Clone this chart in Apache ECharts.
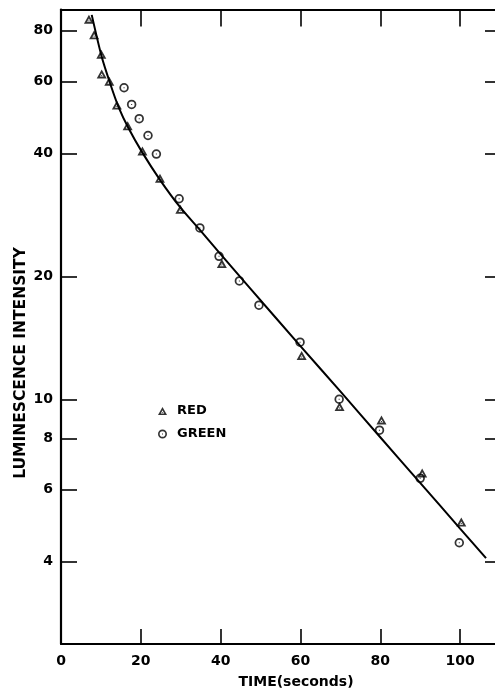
<!DOCTYPE html>
<html><head><meta charset="utf-8">
<script src="https://cdn.jsdelivr.net/npm/echarts@6/dist/echarts.min.js"></script>
<style>html,body{margin:0;padding:0;background:#fff}#c{width:495px;height:690px}</style>
</head><body><div id="c"></div>
<script>
// ---- data ----
const redTime = [7.0, 8.3, 10.1, 10.2, 12.1, 14.0, 16.7, 20.4, 24.8, 29.9, 40.3, 60.3, 69.8, 80.3, 90.5, 100.3];
const redIntensity = [85.4, 78.2, 70.1, 62.7, 60.2, 52.6, 46.8, 40.6, 34.8, 29.2, 21.5, 12.8, 9.6, 8.9, 6.6, 5.0];
const greenTime = [15.8, 17.7, 19.6, 21.8, 23.9, 29.6, 34.8, 39.6, 44.7, 49.6, 59.9, 69.7, 79.8, 90.0, 99.8];
const greenIntensity = [58.0, 52.8, 48.7, 44.3, 39.9, 31.0, 26.3, 22.4, 19.5, 17.0, 13.8, 10.0, 8.4, 6.4, 4.45];
const fitTime = [7.7, 10.2, 12.3, 14.4, 16.9, 20.2, 24.8, 29.8, 34.8, 39.6, 47.4, 60, 70, 80, 90, 100, 106.5];
const fitIntensity = [87.5, 69.1, 59.5, 52.1, 46.2, 40.5, 34.5, 29.6, 26.0, 22.9, 18.7, 13.5, 10.45, 8.07, 6.24, 4.82, 4.08];
const yTickValues = [4, 6, 8, 10, 20, 40, 60, 80];
const xLabelValues = [0, 20, 40, 60, 80, 100];
const xTickValues = [20, 40, 60, 80, 100];
const legendNames = ['RED', 'GREEN'];
const xTitle = 'TIME(seconds)';
const yTitle = 'LUMINESCENCE INTENSITY';

const triPath = 'path://M10,0 L20,18 L0,18 Z M10,7.6 L6.3,14.3 L13.7,14.3 Z M9,11 L11,11 L11,13 L9,13 Z';
const circPath = 'path://M10,0 A10,10 0 1,1 10,20 A10,10 0 1,1 10,0 Z M10,3.7 A6.3,6.3 0 1,0 10,16.3 A6.3,6.3 0 1,0 10,3.7 Z M8.9,8.9 L11.1,8.9 L11.1,11.1 L8.9,11.1 Z';

const FONT = '"DejaVu Sans", sans-serif';
const black = '#000';
const chart = echarts.init(document.getElementById('c'), null, {renderer: 'canvas'});

const xCommon = {
  type: 'value', min: 0, max: 110, interval: 20,
  axisLine: {show: true, onZero: false, lineStyle: {color: black, width: 2}},
  splitLine: {show: false}
};
const yCommon = {
  type: 'log', logBase: 10, min: 2.513, max: 90.2,
  splitLine: {show: false}, minorTick: {show: false}, minorSplitLine: {show: false}
};

chart.setOption({
  animation: false,
  backgroundColor: '#fff',
  grid: {left: 61, right: -5, top: 9.5, bottom: 46, containLabel: false, outerBoundsMode: 'none'},
  xAxis: [
    Object.assign({}, xCommon, {
      position: 'bottom',
      axisTick: {show: true, inside: true, length: 15, customValues: xTickValues, lineStyle: {color: black, width: 1.6}},
      axisLabel: {show: true, customValues: xLabelValues, color: black, fontFamily: FONT, fontWeight: 'bold', fontSize: 14, margin: 10}
    }),
    Object.assign({}, xCommon, {
      position: 'top',
      axisTick: {show: true, inside: true, length: 17, customValues: xTickValues, lineStyle: {color: black, width: 1.6}},
      axisLabel: {show: false}
    })
  ],
  yAxis: [
    Object.assign({}, yCommon, {
      position: 'left',
      axisLine: {show: true, onZero: false, lineStyle: {color: black, width: 2.2}},
      axisTick: {show: true, inside: true, length: 16, customValues: yTickValues, lineStyle: {color: black, width: 1.6}},
      axisLabel: {show: true, customValues: yTickValues, color: black, fontFamily: FONT, fontWeight: 'bold', fontSize: 14, margin: 8}
    }),
    Object.assign({}, yCommon, {
      position: 'right',
      axisLine: {show: false, onZero: false},
      axisTick: {show: true, inside: true, length: 15, customValues: yTickValues, lineStyle: {color: black, width: 1.6}},
      axisLabel: {show: false}
    })
  ],
  legend: {
    show: true, orient: 'vertical', left: 158, top: 404, padding: 0,
    itemWidth: 9, itemHeight: 9, itemGap: 9,
    textStyle: {color: black, fontFamily: FONT, fontWeight: 'bold', fontSize: 13, lineHeight: 14, padding: [0, 0, 0, 5]},
    data: [
      {name: legendNames[0], icon: triPath},
      {name: legendNames[1], icon: circPath}
    ]
  },
  graphic: [
    {type: 'text', x: 296, y: 682, style: {text: xTitle, textAlign: 'center', textVerticalAlign: 'middle', font: 'bold 14px "DejaVu Sans"', fill: black}},
    {type: 'text', x: 21, y: 363, rotation: Math.PI / 2, style: {text: yTitle, textAlign: 'center', textVerticalAlign: 'middle', font: 'bold 15.5px "DejaVu Sans"', fill: black}}
  ],
  series: [
    {
      name: 'fit', type: 'line', xAxisIndex: 0, yAxisIndex: 0,
      data: fitTime.map((t, i) => [t, fitIntensity[i]]),
      smooth: 0.3, showSymbol: false, symbol: 'none', silent: true,
      lineStyle: {color: black, width: 2}, z: 2
    },
    {
      name: legendNames[0], type: 'scatter', xAxisIndex: 0, yAxisIndex: 0,
      data: redTime.map((t, i) => [t, redIntensity[i]]),
      symbol: triPath, symbolSize: [10, 9],
      itemStyle: {color: black}, z: 3
    },
    {
      name: legendNames[1], type: 'scatter', xAxisIndex: 0, yAxisIndex: 0,
      data: greenTime.map((t, i) => [t, greenIntensity[i]]),
      symbol: circPath, symbolSize: 9.5,
      itemStyle: {color: black}, z: 3
    }
  ]
});
</script>
</body></html>
